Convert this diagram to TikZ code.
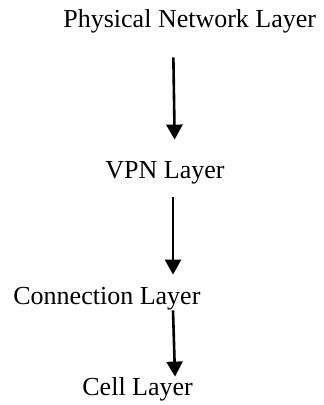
\documentclass[tikz,border=0pt]{standalone}
\usepackage{fontspec}
\setmainfont{Liberation Serif}
\usetikzlibrary{arrows.meta}
\begin{document}
\begin{tikzpicture}[x=0.5pt,y=-0.5pt,layer/.style={anchor=base west,inner sep=0,text height=9pt,text depth=3pt,font=\fontsize{13}{15}\selectfont},flow/.style={line width=1.3pt,-{Triangle[width=8pt,length=7.5pt]}}]
\def\ax{173};
\def\bx{175};

\useasboundingbox (0,0) rectangle (323,405);

\node[layer] (phys) at (63,28) {Physical Network Layer};
\node[layer] (vpn) at (105,179) {VPN Layer};
\node[layer] (conn) at (13,304) {Connection Layer};
\node[layer] (cell) at (82,395) {Cell Layer};

\draw[flow,shorten <=11.5pt,shorten >=10.5pt] (phys.south -| \ax,0) -- (vpn.north -| \bx,0);
\draw[flow,shorten <=6pt,shorten >=5.5pt] (vpn.south -| \ax,0) -- (conn.north -| \ax,0);
\draw[flow] (conn.south -| \ax,0) -- (cell.north -| \bx,0);
\end{tikzpicture}
\end{document}
